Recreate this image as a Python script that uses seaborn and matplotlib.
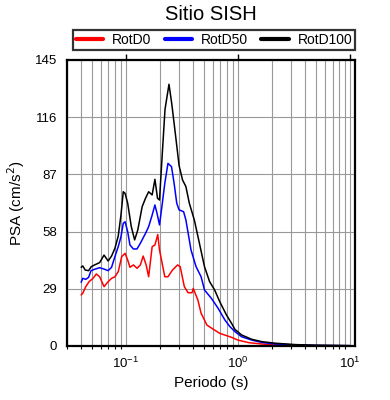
import numpy as np
import pandas as pd
import matplotlib
matplotlib.use("Agg")
import matplotlib.pyplot as plt
import seaborn as sns
from matplotlib.ticker import LogLocator, NullFormatter

# ---- data ----
series_names = ["RotD0", "RotD50", "RotD100"]
series_colors = ["#ff0000", "#0000ff", "#000000"]

period_d0 = [0.040, 0.0413, 0.044, 0.047, 0.051, 0.0546, 0.0585, 0.064, 0.0696, 0.0747,
             0.080, 0.0857, 0.092, 0.0986, 0.104, 0.109, 0.117, 0.126, 0.135, 0.143,
             0.152, 0.160, 0.172, 0.182, 0.193, 0.200, 0.223, 0.238, 0.261, 0.29,
             0.306, 0.333, 0.36, 0.39, 0.40, 0.44, 0.47, 0.53, 0.60, 0.69,
             0.879, 1.0, 1.25, 1.64, 2.17, 3.29, 5.0, 10.0]
rotd0 = [25.9, 26.7, 30.1, 32.6, 34.3, 36.5, 35.1, 30.1, 32.6, 34.3,
         35.1, 37.7, 45.3, 47.0, 43.6, 39.9, 41.1, 39.4, 41.1, 45.6,
         41.1, 35.1, 50.4, 51.2, 56.5, 48.7, 35.1, 35.1, 38.5, 41.1,
         40.2, 30.1, 27.0, 27.0, 29.2, 23.3, 16.6, 10.6, 8.6, 6.4,
         4.4, 3.0, 1.7, 1.0, 0.6, 0.3, 0.2, 0.1]

period_d50 = [0.040, 0.0413, 0.044, 0.0466, 0.049, 0.0527, 0.0585, 0.064, 0.0696, 0.0747,
              0.080, 0.0857, 0.0906, 0.095, 0.0986, 0.104, 0.109, 0.117, 0.126, 0.135,
              0.150, 0.160, 0.172, 0.182, 0.190, 0.200, 0.211, 0.223, 0.238, 0.256,
              0.270, 0.285, 0.299, 0.328, 0.344, 0.382, 0.424, 0.47, 0.504, 0.58,
              0.667, 0.766, 0.85, 0.942, 1.08, 1.33, 1.64, 2.17, 3.29, 5.0, 10.0]
rotd50 = [32.3, 34.3, 33.8, 34.8, 38.2, 38.9, 39.7, 39.0, 38.2, 39.9,
          45.3, 50.4, 55.4, 62.2, 63.0, 58.0, 51.2, 49.2, 49.2, 52.1,
          57.1, 60.5, 66.4, 71.5, 67.3, 61.4, 71.5, 82.5, 92.6, 90.9,
          82.5, 72.4, 69.0, 68.1, 63.9, 48.7, 40.2, 35.1, 28.4, 24.2,
          19.1, 13.2, 9.8, 7.3, 4.7, 3.0, 1.8, 1.0, 0.5, 0.3, 0.15]

period_d100 = [0.040, 0.0413, 0.0435, 0.0466, 0.0492, 0.0527, 0.0585, 0.064, 0.0696, 0.0747,
               0.080, 0.0857, 0.0906, 0.095, 0.0986, 0.104, 0.112, 0.120, 0.128, 0.140,
               0.150, 0.160, 0.172, 0.182, 0.192, 0.200, 0.212, 0.224, 0.243, 0.257,
               0.279, 0.299, 0.321, 0.344, 0.369, 0.409, 0.454, 0.504, 0.56, 0.621,
               0.689, 0.792, 0.879, 0.942, 1.08, 1.33, 1.64, 2.17, 3.29, 5.0, 10.0]
rotd100 = [39.9, 40.6, 38.5, 38.2, 40.2, 41.1, 42.3, 46.1, 43.1, 45.6,
           49.5, 55.8, 66.4, 78.2, 77.4, 72.4, 60.5, 53.8, 58.8, 70.6,
           74.9, 78.2, 76.6, 84.5, 74.9, 74.0, 98.0, 120.0, 132.7, 123.0,
           106.1, 91.5, 84.2, 80.8, 72.4, 63.9, 52.1, 40.2, 32.6, 28.4,
           22.5, 15.7, 11.5, 8.4, 5.6, 3.4, 2.2, 1.4, 0.7, 0.4, 0.2]

y_ticks = [0, 29, 58, 87, 116, 145]

df = pd.concat([
    pd.DataFrame({"Periodo": period_d0, "PSA": rotd0, "Serie": series_names[0]}),
    pd.DataFrame({"Periodo": period_d50, "PSA": rotd50, "Serie": series_names[1]}),
    pd.DataFrame({"Periodo": period_d100, "PSA": rotd100, "Serie": series_names[2]}),
], ignore_index=True)

sns.set_style("white")
plt.rcParams["font.family"] = ["Liberation Sans", "DejaVu Sans"]
plt.rcParams["text.color"] = "black"
plt.rcParams["axes.labelcolor"] = "black"
plt.rcParams["xtick.color"] = "black"
plt.rcParams["ytick.color"] = "black"

fig = plt.figure(figsize=(3.9, 4.0), dpi=100)
ax = fig.add_axes([67/390, 1-346/400, (355-67)/390, (346-60)/400])

sns.lineplot(data=df, x="Periodo", y="PSA", hue="Serie", hue_order=series_names,
             palette=series_colors, sort=False, estimator=None, lw=1.1, ax=ax, legend=False)

ax.set_xscale("log")
ax.set_xlim(0.0299, 11.1)
ax.set_ylim(0, 145)
ax.set_yticks(y_ticks)
ax.set_yticklabels([str(v) for v in y_ticks])
ax.xaxis.set_major_locator(LogLocator(base=10, numticks=10))
ax.xaxis.set_minor_locator(LogLocator(base=10, subs=np.arange(2, 10), numticks=20))
ax.xaxis.set_minor_formatter(NullFormatter())

ax.grid(True, which="major", axis="both", color="#999999", lw=0.8)
ax.grid(True, which="minor", axis="x", color="#999999", lw=0.8)
ax.set_axisbelow(True)

for s in ax.spines.values():
    s.set_linewidth(1.6)
    s.set_color("black")

ax.tick_params(axis="both", which="major", direction="out", length=4, width=1,
               labelsize=9.5, color="black", labelcolor="black", pad=3)
ax.tick_params(axis="x", which="minor", direction="out", length=2.5, width=0.8,
               color="black", bottom=True)
ax.tick_params(axis="x", which="major", top=True)

ax.set_xlabel("Periodo (s)", fontsize=11, labelpad=4, color="black")
ax.set_ylabel("PSA (cm/s$^2$)", fontsize=11, labelpad=6, color="black")

handles = [plt.Line2D([], [], color=c, lw=3) for c in series_colors]
leg = ax.legend(handles, series_names, loc="lower left",
                bbox_to_anchor=(0.02, 1.035, 0.98, 0.077), mode="expand", ncol=3,
                frameon=True, fancybox=False, fontsize=10, handlelength=2.0,
                handletextpad=0.6, borderpad=0.2, columnspacing=1.0, borderaxespad=0)
leg.get_frame().set_edgecolor("black")
leg.get_frame().set_linewidth(1.6)
for t in leg.get_texts():
    t.set_color("black")

fig.text(211/390, 1-14/400, "Sitio SISH", ha="center", va="center", fontsize=14.5,
         color="black")

fig.savefig("out.png", dpi=100)
